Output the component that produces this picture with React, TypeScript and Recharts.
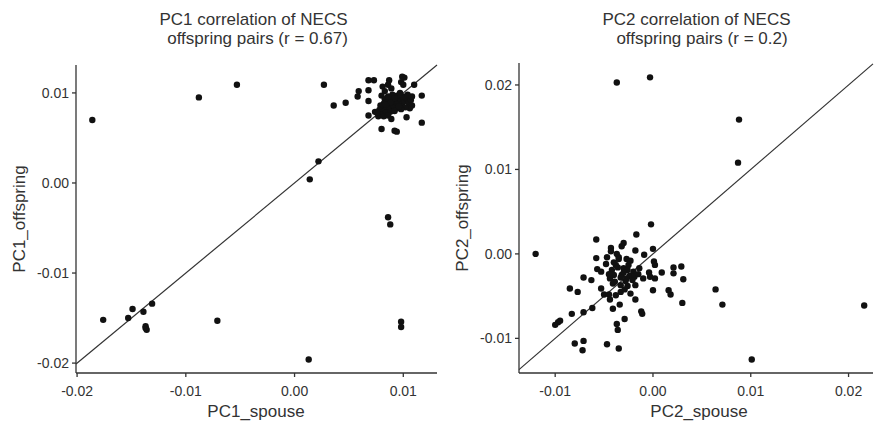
import React from 'react';
import { ScatterChart, Scatter, XAxis, YAxis, ReferenceLine } from 'recharts';

// [spouse, offspring] pairs
const pc1Points: [number, number][] = [
  [-0.0186, 0.007], [-0.0088, 0.0095], [-0.0053, 0.0109], [0.0027, 0.0109],
  [0.0014, 0.0004], [0.0022, 0.0024], [0.0036, 0.0086], [0.0047, 0.0089],
  [0.0058, 0.0096], [0.0059, 0.0102], [0.0068, 0.0114], [0.0073, 0.0114],
  [0.0068, 0.0103], [0.0068, 0.0091], [0.0068, 0.0075], [0.008, 0.006],
  [0.0092, 0.0058], [0.0094, 0.0057], [0.0086, -0.0038], [0.0088, -0.0046],
  [0.0098, -0.0154], [0.0098, -0.016], [0.0013, -0.0196], [-0.0071, -0.0153],
  [-0.0176, -0.0152], [-0.0153, -0.015], [-0.0149, -0.014], [-0.0139, -0.0143],
  [-0.0131, -0.0134], [-0.0137, -0.0161], [-0.0137, -0.0159], [-0.0136, -0.0163],
  [0.0117, 0.0067], [0.0117, 0.0097], [0.0103, 0.0073], [0.011, 0.0109],
  [0.0101, 0.0117], [0.0087, 0.0114], [0.0099, 0.0118], [0.0086, 0.0109],
  [0.0098, 0.0112], [0.01, 0.0109], [0.0081, 0.0107], [0.0083, 0.0102],
  [0.0089, 0.0105], [0.0074, 0.0079], [0.0077, 0.0074],
  [0.008, 0.0097], [0.0083, 0.0093], [0.0085, 0.009], [0.0082, 0.0088],
  [0.0087, 0.0086], [0.0089, 0.0092], [0.0091, 0.0089], [0.0093, 0.0087],
  [0.0095, 0.009], [0.0097, 0.0093], [0.0099, 0.0088], [0.0101, 0.0091],
  [0.0103, 0.0094], [0.0105, 0.0089], [0.0107, 0.0092], [0.0108, 0.0086],
  [0.0106, 0.0083], [0.0102, 0.0084], [0.0098, 0.0082], [0.0094, 0.0083],
  [0.009, 0.0084], [0.0086, 0.0082], [0.0082, 0.0084], [0.0079, 0.0086],
  [0.0078, 0.0081], [0.0081, 0.0079], [0.0084, 0.0078], [0.0088, 0.0079],
  [0.0092, 0.008], [0.0096, 0.0085], [0.01, 0.0096], [0.0094, 0.0097],
  [0.009, 0.0098], [0.0086, 0.0096], [0.0104, 0.0098], [0.0108, 0.0096],
  [0.0097, 0.01], [0.0092, 0.0094], [0.0088, 0.0089], [0.0084, 0.0087],
  [0.0079, 0.0076], [0.0076, 0.0078], [0.0082, 0.0074], [0.0086, 0.0075],
  [0.0089, 0.0071],
];

const pc2Points: [number, number][] = [
  [-0.0037, 0.0203], [-0.0003, 0.0209], [0.0088, 0.0159], [0.0087, 0.0108],
  [-0.012, 0.0], [0.0216, -0.0061], [0.0101, -0.0125], [0.0064, -0.0042],
  [0.0071, -0.006],
  [-0.0002, 0.0035], [-0.0017, 0.0023], [-0.0058, 0.0017], [-0.0043, 0.0007],
  [-0.003, 0.0013], [-0.0032, 0.0009], [-0.0018, 0.0004], [0.0, 0.0006],
  [-0.0043, 0.0003], [-0.0037, 0.0], [-0.0035, -0.0004], [-0.0058, -0.0005],
  [-0.0047, -0.0004], [-0.0027, -0.0006], [-0.0023, -0.0008], [-0.0009, -0.0001],
  [0.0001, -0.0009], [0.0002, -0.0013], [-0.0038, -0.0013], [-0.0057, -0.0018],
  [-0.0053, -0.0021], [-0.0042, -0.0019], [-0.003, -0.0017], [-0.0026, -0.0019],
  [-0.002, -0.0021], [-0.0014, -0.0017], [-0.004, -0.0025], [-0.0032, -0.0025],
  [-0.0024, -0.0026], [-0.0019, -0.0027], [-0.0004, -0.0022], [-0.0003, -0.0027],
  [0.0002, -0.0029], [-0.001, -0.0029], [0.0009, -0.0022], [0.0021, -0.0016],
  [0.0021, -0.0023], [0.0029, -0.0015], [0.0031, -0.003], [-0.0071, -0.0028],
  [-0.0063, -0.0031], [-0.0044, -0.0029], [-0.0041, -0.0035], [-0.0028, -0.0032],
  [-0.0026, -0.0038], [-0.0033, -0.0037], [-0.0018, -0.0037], [-0.0085, -0.0041],
  [-0.0077, -0.0045], [-0.0053, -0.0041], [-0.005, -0.0048], [-0.0045, -0.0048],
  [-0.0038, -0.0049], [-0.0033, -0.0045], [-0.0023, -0.0047], [0.0, -0.0043],
  [0.0016, -0.0043], [0.0018, -0.0048], [-0.0044, -0.0054], [-0.0034, -0.006],
  [-0.0018, -0.0054], [-0.0062, -0.0064], [-0.0071, -0.0069], [-0.0083, -0.0071],
  [-0.0041, -0.0065], [-0.0012, -0.0068], [-0.0011, -0.0071], [0.003, -0.0058],
  [-0.0029, -0.0077], [-0.0095, -0.0079], [-0.0097, -0.0081], [-0.01, -0.0084],
  [-0.0037, -0.0083], [-0.0036, -0.009], [-0.0071, -0.0103], [-0.008, -0.0106],
  [-0.0072, -0.0114], [-0.0047, -0.0107], [-0.0035, -0.0112],
  [-0.004, -0.001], [-0.0036, -0.0016], [-0.003, -0.0022], [-0.0027, -0.0029],
  [-0.0033, -0.0028], [-0.0021, -0.0031], [-0.0035, -0.0006], [-0.0025, -0.0013],
  [-0.0045, -0.0024], [-0.0015, -0.0024], [-0.0029, -0.0042], [-0.0039, -0.0033],
  [-0.0048, -0.0012],
];

const pc1Ticks = [-0.02, -0.01, 0, 0.01];
const pc2Ticks = [-0.01, 0, 0.01, 0.02];

const FONT = '"Liberation Sans", Arial, Helvetica, sans-serif';
const INK = '#333';

const Dot = (p: any) => <circle cx={p.cx} cy={p.cy} r={3.2} fill="#111" />;

interface PanelProps {
  points: [number, number][];
  xDomain: [number, number];
  yDomain: [number, number];
  ticks: number[];
  left: number;
  top: number;
  yAxisWidth: number;
}

function Panel({ points, xDomain, yDomain, ticks, left, top, yAxisWidth }: PanelProps) {
  const data = points.map(([x, y]) => ({ x, y }));
  const lo = Math.max(xDomain[0], yDomain[0]);
  const hi = Math.min(xDomain[1], yDomain[1]);
  const tick = { fill: INK, fontSize: 14, fontFamily: FONT };
  return (
    <div style={{ position: 'absolute', left, top: 0 }}>
      <ScatterChart width={440} height={421} margin={{ top, right: 3, bottom: 0, left: 0 }}>
        <XAxis
          type="number"
          dataKey="x"
          domain={xDomain}
          allowDataOverflow
          ticks={ticks}
          tickFormatter={(v: number) => v.toFixed(2)}
          height={48}
          tick={tick}
          tickSize={4}
          tickMargin={9}
          stroke={INK}
          strokeWidth={1.3}
        />
        <YAxis
          type="number"
          dataKey="y"
          domain={yDomain}
          allowDataOverflow
          ticks={ticks}
          tickFormatter={(v: number) => v.toFixed(2)}
          width={yAxisWidth}
          tick={tick}
          tickSize={4}
          tickMargin={3}
          stroke={INK}
          strokeWidth={1.3}
        />
        <ReferenceLine
          segment={[{ x: lo, y: lo }, { x: hi, y: hi }]}
          stroke="#333"
          strokeWidth={1.2}
        />
        <Scatter data={data} shape={Dot} isAnimationActive={false} />
      </ScatterChart>
    </div>
  );
}

export default function App() {
  const title = { fontSize: 17, fontFamily: FONT, fill: INK, textAnchor: 'middle' as const };
  const label = { fontSize: 17, fontFamily: FONT, fill: INK, textAnchor: 'middle' as const };
  return (
    <div style={{ position: 'absolute', left: 0, top: 0, width: 876, height: 421, background: '#fff' }}>
      <Panel
        points={pc1Points}
        xDomain={[-0.0201, 0.0131]}
        yDomain={[-0.0211, 0.0131]}
        ticks={pc1Ticks}
        left={0}
        top={65}
        yAxisWidth={76}
      />
      <Panel
        points={pc2Points}
        xDomain={[-0.0137, 0.0225]}
        yDomain={[-0.0141, 0.0226]}
        ticks={pc2Ticks}
        left={436}
        top={63}
        yAxisWidth={83}
      />
      <svg width={876} height={421} style={{ position: 'absolute', left: 0, top: 0, pointerEvents: 'none' }}>
        <text x={253.5} y={25} style={title}>PC1 correlation of NECS</text>
        <text x={257.5} y={44} style={title}>offspring pairs (r = 0.67)</text>
        <text x={696.5} y={25} style={title}>PC2 correlation of NECS</text>
        <text x={702} y={44} style={title}>offspring pairs (r = 0.2)</text>
        <text x={256} y={417} style={label}>PC1_spouse</text>
        <text x={699} y={417} style={label}>PC2_spouse</text>
        <text transform="translate(25, 219) rotate(-90)" style={label}>PC1_offspring</text>
        <text transform="translate(467.5, 218) rotate(-90)" style={label}>PC2_offspring</text>
      </svg>
    </div>
  );
}
